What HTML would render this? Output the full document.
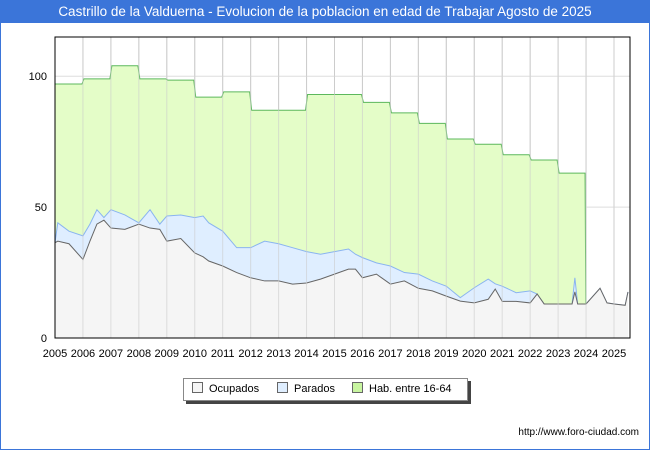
<!DOCTYPE html>
<html><head><meta charset="utf-8"><style>
body{margin:0;background:#fff;font-family:"Liberation Sans",sans-serif}
#wrap{position:relative;width:648px;height:448px;border:1px solid #3b75d9;overflow:hidden}
#title{height:22px;background:#3b75d9;color:#fff;font-size:13.5px;text-align:center;line-height:22px}
</style></head><body>
<div id="wrap">
<div id="title">Castrillo de la Valduerna - Evolucion de la poblacion en edad de Trabajar Agosto de 2025</div>
<svg id="svg" width="650" height="428" style="position:absolute;left:-1px;top:22px"></svg>
</div>
<script>
const habYears=[2005,2006,2007,2008,2009,2010,2011,2012,2013,2014,2015,2016,2017,2018,2019,2020,2021,2022,2023];
const habValues=[97,99,104,99,98.5,92,94,87,87,93,93,90,86,82,76,74,70,68,63];
const times=[2005,2005.1,2005.5,2006,2006.25,2006.5,2006.75,2007,2007.5,2008,2008.4,2008.75,2009,2009.5,2010,2010.3,2010.5,2011,2011.5,2012,2012.5,2013,2013.5,2014,2014.5,2015,2015.5,2015.75,2016,2016.5,2017,2017.5,2018,2018.5,2019,2019.5,2020,2020.5,2020.75,2021,2021.5,2022,2022.25,2022.5,2023,2023.5,2023.6,2023.7,2024,2024.5,2024.75,2025,2025.4,2025.5];
const ocupados=[36.4,37,36,30,37,43.5,45,42,41.5,43.5,42,41.5,37,38,32.5,31,29.4,27.5,25,23,21.8,21.8,20.6,21,22.5,24.4,26.3,26.3,23,24.4,20.6,21.8,19,18,16,14.1,13.4,14.8,18.7,14,14,13.4,16.8,13,13,13,17.6,13,13,19,13.4,13,12.5,17.6];
const parados=[0,7,4.8,9,6.5,5.5,1,7,5.5,0.5,7,2,9.6,9,13.5,15.6,14.6,13.3,9.5,11.5,15.2,14.2,13.9,12,9.5,8.6,7.7,5.7,7.7,4.3,6.9,3.2,5.4,3.8,3.8,1.3,5.8,7.7,2,5.8,3.3,4.6,0,0,0,0,5.4,0,0,0,0,0,0,0];
const yTicks=[0,50,100];
const xTicks=[2005,2006,2007,2008,2009,2010,2011,2012,2013,2014,2015,2016,2017,2018,2019,2020,2021,2022,2023,2024,2025];
const L=55,R=630,T=14,B=315;
const xs=t=>L+(t-2005)*27.95, ys=v=>B-v*2.618;
const svg=document.getElementById('svg');const NS='http://www.w3.org/2000/svg';
function el(tag,a){const e=document.createElementNS(NS,tag);for(const k in a)e.setAttribute(k,a[k]);svg.appendChild(e);return e;}
xTicks.forEach(t=>{const g=el('line',{x1:xs(t),x2:xs(t),y1:T,y2:B,stroke:'#ccc'});

});
yTicks.forEach(v=>{const g=el('line',{x1:L,x2:R,y1:ys(v),y2:ys(v),stroke:'#ddd'});

});
let hp=[];habYears.forEach((yr,i)=>{hp.push([xs(yr)+(i?1:0),ys(habValues[i])]);hp.push([xs(yr+1)-1,ys(habValues[i])]);});
const habEnd=habYears[habYears.length-1]+1;
const hd='M'+xs(2005)+','+B+' L'+hp.map(p=>p.join(',')).join(' L')+' L'+xs(habEnd)+','+B+' Z';
const hab=el('path',{d:hd,fill:'#e4fdc8',stroke:'#5cb85c','stroke-width':1});


const upper=times.map((t,i)=>[xs(t),ys(ocupados[i]+parados[i])]);
const lower=times.map((t,i)=>[xs(t),ys(ocupados[i])]);
const pa=el('path',{d:'M'+upper.map(p=>p.join(',')).join(' L')+' L'+lower.slice().reverse().map(p=>p.join(',')).join(' L')+' Z',fill:'#dfeeff'});


const pl=el('path',{d:'M'+upper.map(p=>p.join(',')).join(' L'),fill:'none',stroke:'#8ab4f0'});


const oa=el('path',{d:'M'+xs(times[0])+','+B+' L'+lower.map(p=>p.join(',')).join(' L')+' L'+xs(times[times.length-1])+','+B+' Z',fill:'#f5f5f5'});


const ol=el('path',{d:'M'+lower.map(p=>p.join(',')).join(' L'),fill:'none',stroke:'#666'});


xTicks.forEach(t=>{const g=el('line',{x1:xs(t),x2:xs(t),y1:T,y2:B,stroke:'#ccc','stroke-opacity':0.6});


const tx=el('text',{x:xs(t),y:B+19,'text-anchor':'middle','font-size':11,fill:'#000'});tx.textContent=t;

});
yTicks.forEach(v=>{const tx=el('text',{x:L-8,y:ys(v)+4,'text-anchor':'end','font-size':11,fill:'#000'});tx.textContent=v;

});
const fr=el('rect',{x:L,y:T,width:R-L,height:B-T,fill:'none',stroke:'#000'});


</script>
<div style="position:absolute;left:183px;top:378px;width:283px;height:21px;border:1px solid #888;box-shadow:3px 3px 0 #444;background:#fff;font-size:11px;line-height:21px">
<span style="position:absolute;left:8px"><i style="display:inline-block;width:9px;height:9px;border:1px solid #666;background:#f5f5f5;margin-right:6px;vertical-align:-1px"></i>Ocupados</span>
<span style="position:absolute;left:93px"><i style="display:inline-block;width:9px;height:9px;border:1px solid #666;background:#dfeeff;margin-right:6px;vertical-align:-1px"></i>Parados</span>
<span style="position:absolute;left:168px"><i style="display:inline-block;width:9px;height:9px;border:1px solid #666;background:#c8f5a0;margin-right:6px;vertical-align:-1px"></i>Hab. entre 16-64</span>
</div>
<div style="position:absolute;right:11px;top:427px;font-size:10px">http://www.foro-ciudad.com</div>
</body></html>
